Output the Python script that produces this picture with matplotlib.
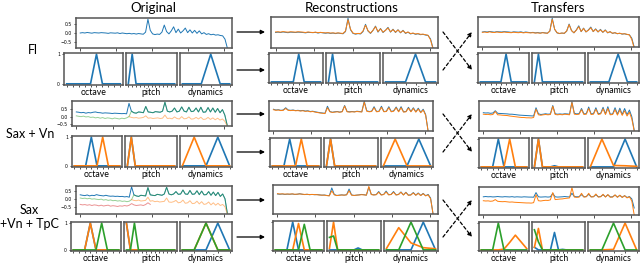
import numpy as np
import matplotlib
matplotlib.use('Agg')
import matplotlib.pyplot as plt

W, H = 640, 263
fig = plt.figure(figsize=(6.4, 2.63), dpi=100)
FONT = 'Lato'

BLUE, ORANGE, GREEN, RED = '#1f77b4', '#ff7f0e', '#2ca02c', '#d62728'

col_titles = ['Original', 'Reconstructions', 'Transfers']
row_labels = ['Fl', 'Sax + Vn', 'Sax\n+Vn + TpC']
dist_names = ['octave', 'pitch', 'dynamics']

# ---------------- spectra (64 bins) ----------------
fl_orig = [0.00, 0.02, 0.00, 0.03, 0.01, -0.01, 0.02, 0.01, 0.00, 0.02,
           0.01, 0.00, -0.02, 0.01, 0.00, -0.01, 0.01, -0.03, 0.00, -0.02,
           -0.04, -0.02, -0.05, -0.03, -0.06, -0.03, -0.05, -0.07, 0.05, 0.78,
           0.15, -0.05, -0.09, -0.06, -0.08, 0.05, 0.45, 0.08, -0.05, 0.12,
           0.35, 0.02, 0.22, 0.00, 0.12, 0.28, 0.02, 0.18, 0.00, 0.15,
           -0.02, 0.12, -0.05, 0.02, -0.08, -0.04, -0.10, -0.07, -0.12, -0.10,
           -0.14, -0.16, -0.35, -0.85]
fl_rec = [0.03, 0.04, 0.02, 0.05, 0.03, 0.02, 0.04, 0.03, 0.02, 0.04,
          0.03, 0.02, 0.00, 0.03, 0.01, 0.00, 0.02, -0.01, 0.01, -0.01,
          -0.02, -0.01, -0.03, -0.02, -0.04, -0.02, -0.04, -0.05, 0.08, 0.70,
          0.18, -0.03, -0.07, -0.05, -0.06, 0.08, 0.40, 0.10, -0.03, 0.12,
          0.32, 0.05, 0.20, 0.02, 0.12, 0.25, 0.04, 0.16, 0.02, 0.14,
          0.00, 0.10, -0.03, 0.03, -0.06, -0.03, -0.08, -0.06, -0.10, -0.09,
          -0.12, -0.15, -0.40, -0.90]
fl_tr = [-0.02, 0.00, -0.03, 0.01, -0.02, -0.03, 0.00, -0.02, -0.03, 0.00,
         -0.02, -0.03, -0.04, -0.01, -0.03, -0.04, -0.02, -0.05, -0.03, -0.04,
         -0.05, -0.04, -0.06, -0.05, -0.07, -0.04, -0.06, -0.07, 0.05, 0.72,
         0.16, -0.04, -0.08, -0.06, -0.07, 0.06, 0.42, 0.08, -0.04, 0.10,
         0.30, 0.03, 0.20, 0.01, 0.10, 0.24, 0.03, 0.15, 0.01, 0.12,
         -0.01, 0.10, -0.04, 0.02, -0.07, -0.04, -0.09, -0.07, -0.11, -0.10,
         -0.13, -0.16, -0.42, -0.92]

# Sax + Vn original
sv_sax = [0.30, 0.28, 0.25, 0.27, 0.22, 0.26, 0.24, 0.28, 0.30, 0.26,
          0.25, 0.22, 0.24, 0.23, 0.22, 0.20, 0.22, 0.21, 0.20, 0.19,
          0.20, 0.18, 0.85, 0.35, 0.25, 0.22, 0.30, 0.28, 0.25, 0.65,
          0.30, 0.28, 0.25, 0.32, 0.30, 0.28, 0.35, 0.92, 0.35, 0.30,
          0.35, 0.55, 0.30, 0.35, 0.62, 0.35, 0.30, 0.60, 0.32, 0.35,
          0.55, 0.30, 0.60, 0.28, 0.30, 0.58, 0.30, 0.55, 0.28, 0.52,
          0.25, 0.45, 0.10, -0.55]
sv_vn_head = [0.05, 0.02, 0.00, 0.03, -0.02, 0.00, -0.05, -0.03, -0.08, -0.05,
              -0.10, -0.06, -0.12, -0.08, -0.10, -0.14, -0.09, -0.12, -0.15, -0.10,
              -0.13, -0.08, 0.00]
sv_mix_tail = [0.00, -0.05, -0.08, -0.06, -0.10, -0.08, -0.05, 0.05, -0.10, -0.08,
               -0.12, -0.10, -0.08, -0.12, -0.10, 0.10, -0.12, -0.10, -0.14, -0.02,
               -0.12, -0.15, 0.00, -0.14, -0.12, -0.02, -0.16, -0.14, -0.05, -0.15,
               -0.04, -0.18, -0.16, -0.05, -0.18, -0.08, -0.20, -0.10, -0.22, -0.15,
               -0.30, -0.60]

rec2_blue = [0.45, 0.40, 0.42, 0.38, 0.40, 0.55, 0.40, 0.38, 0.40, 0.36,
             0.38, 0.35, 0.37, 0.33, 0.35, 0.30, 0.32, 0.28, 0.25, 0.22,
             0.20, 0.18, 0.65, 0.30, 0.25, 0.28, 0.30, 0.26, 0.30, 0.70,
             0.30, 0.28, 0.30, 0.28, 0.32, 0.30, 0.28, 0.98, 0.35, 0.30,
             0.32, 0.62, 0.30, 0.32, 0.65, 0.30, 0.32, 0.62, 0.30, 0.35,
             0.60, 0.30, 0.62, 0.28, 0.30, 0.58, 0.30, 0.55, 0.28, 0.52,
             0.25, 0.45, 0.10, -1.0]
rec2_orange = [0.42, 0.38, 0.40, 0.36, 0.38, 0.50, 0.38, 0.36, 0.38, 0.35,
               0.36, 0.33, 0.35, 0.31, 0.33, 0.28, 0.30, 0.26, 0.23, 0.20,
               0.18, 0.16, 0.55, 0.28, 0.24, 0.26, 0.28, 0.25, 0.28, 0.66,
               0.28, 0.26, 0.28, 0.27, 0.30, 0.28, 0.27, 0.92, 0.32, 0.28,
               0.30, 0.55, 0.28, 0.30, 0.58, 0.28, 0.30, 0.55, 0.28, 0.32,
               0.55, 0.28, 0.55, 0.26, 0.28, 0.52, 0.28, 0.50, 0.26, 0.46,
               0.22, 0.40, 0.05, -1.0]
tr2_blue = [0.22, 0.20, 0.21, 0.18, 0.20, 0.35, 0.18, 0.17, 0.16, 0.15,
            0.14, 0.12, 0.12, 0.10, 0.08, 0.06, 0.05, 0.04, 0.03, 0.02,
            0.01, 0.00, 0.55, 0.15, 0.10, 0.12, 0.15, 0.12, 0.14, 0.70,
            0.15, 0.12, 0.14, 0.12, 0.15, 0.14, 0.12, 0.95, 0.18, 0.14,
            0.16, 0.50, 0.14, 0.16, 0.60, 0.14, 0.16, 0.55, 0.15, 0.18,
            0.58, 0.14, 0.62, 0.12, 0.14, 0.55, 0.12, 0.52, 0.10, 0.50,
            0.08, 0.40, -0.05, -0.95]
tr2_orange = [0.12, 0.10, 0.11, 0.08, 0.10, 0.30, 0.08, 0.07, 0.05, 0.04,
              0.03, 0.00, -0.02, -0.04, -0.06, -0.08, -0.10, -0.10, -0.12, -0.12,
              -0.13, -0.10, 0.45, 0.08, 0.05, 0.08, 0.10, 0.08, 0.10, 0.65,
              0.10, 0.08, 0.10, 0.08, 0.12, 0.10, 0.08, 0.90, 0.12, 0.10,
              0.12, 0.42, 0.10, 0.12, 0.50, 0.10, 0.12, 0.45, 0.10, 0.14,
              0.48, 0.10, 0.50, 0.08, 0.10, 0.42, 0.06, 0.40, 0.04, 0.35,
              0.00, 0.25, -0.20, -1.0]

# Sax + Vn + TpC original
svt_sax = [0.25, 0.22, 0.20, 0.24, 0.18, 0.22, 0.20, 0.26, 0.22, 0.20,
           0.18, 0.22, 0.18, 0.16, 0.17, 0.15, 0.16, 0.14, 0.15, 0.12,
           0.14, 0.10, 0.75, 0.25, 0.18, 0.15, 0.22, 0.20, 0.18, 0.70,
           0.25, 0.22, 0.20, 0.28, 0.25, 0.22, 0.30, 0.72, 0.30, 0.25,
           0.30, 0.45, 0.28, 0.30, 0.55, 0.30, 0.28, 0.52, 0.28, 0.30,
           0.50, 0.26, 0.48, 0.25, 0.26, 0.45, 0.22, 0.42, 0.20, 0.40,
           0.15, 0.30, 0.00, -0.90]
svt_vn_head = [0.05, 0.02, 0.04, 0.00, 0.03, -0.02, 0.00, -0.03, -0.05, -0.02,
               -0.08, -0.05, -0.10, -0.07, -0.12, -0.10, -0.14, -0.12, -0.16, -0.14,
               -0.18, -0.15, -0.05]
svt_tpc_head = [-0.35, -0.38, -0.36, -0.40, -0.37, -0.42, -0.38, -0.40, -0.44, -0.40,
                -0.45, -0.42, -0.40, -0.46, -0.43, -0.45, -0.48, -0.44, -0.46, -0.42,
                -0.45, -0.40, -0.30, -0.38, -0.42, -0.40, -0.38, -0.42, -0.36, -0.25,
                -0.35]
svt_mix_tail = [-0.05, -0.10, -0.12, -0.08, -0.14, -0.12, -0.10, 0.10, -0.15, -0.12,
                -0.18, -0.15, -0.20, -0.18, -0.16, 0.05, -0.20, -0.22, -0.18, -0.10,
                -0.25, -0.22, -0.08, -0.28, -0.25, -0.12, -0.30, -0.28, -0.15, -0.32,
                -0.18, -0.35, -0.32, -0.20, -0.38, -0.25, -0.40, -0.28, -0.42, -0.35,
                -0.50, -0.95]

rec3_blue = [0.38, 0.36, 0.38, 0.35, 0.37, 0.36, 0.38, 0.35, 0.36, 0.40,
             0.36, 0.34, 0.36, 0.33, 0.35, 0.33, 0.34, 0.32, 0.30, 0.31,
             0.28, 0.26, 0.80, 0.35, 0.28, 0.30, 0.32, 0.30, 0.33, 0.72,
             0.32, 0.28, 0.30, 0.32, 0.35, 0.33, 0.30, 0.85, 0.35, 0.32,
             0.34, 0.55, 0.32, 0.35, 0.58, 0.33, 0.35, 0.55, 0.32, 0.35,
             0.52, 0.32, 0.50, 0.30, 0.32, 0.48, 0.30, 0.45, 0.28, 0.42,
             0.26, 0.35, 0.10, -1.0]
rec3_orange = [0.40, 0.38, 0.39, 0.37, 0.38, 0.37, 0.39, 0.36, 0.37, 0.38,
               0.37, 0.35, 0.36, 0.34, 0.35, 0.34, 0.33, 0.31, 0.30, 0.30,
               0.27, 0.25, 0.60, 0.32, 0.27, 0.29, 0.31, 0.30, 0.32, 0.60,
               0.30, 0.28, 0.30, 0.31, 0.33, 0.32, 0.30, 0.90, 0.34, 0.31,
               0.33, 0.50, 0.31, 0.34, 0.52, 0.32, 0.34, 0.50, 0.31, 0.34,
               0.50, 0.31, 0.48, 0.29, 0.31, 0.45, 0.29, 0.42, 0.27, 0.40,
               0.25, 0.32, 0.05, -1.0]
tr3_blue = [0.30, 0.32, 0.30, 0.31, 0.29, 0.30, 0.32, 0.30, 0.29, 0.31,
            0.30, 0.29, 0.31, 0.28, 0.30, 0.29, 0.28, 0.30, 0.29, 0.28,
            0.28, 0.27, 0.60, 0.30, 0.28, 0.29, 0.30, 0.28, 0.30, 0.55,
            0.30, 0.28, 0.29, 0.30, 0.32, 0.30, 0.29, 0.55, 0.32, 0.30,
            0.31, 0.45, 0.30, 0.32, 0.48, 0.30, 0.31, 0.45, 0.30, 0.32,
            0.45, 0.30, 0.44, 0.29, 0.30, 0.42, 0.28, 0.40, 0.27, 0.38,
            0.25, 0.32, 0.15, -0.50]
tr3_orange = [0.02, 0.00, 0.01, -0.02, 0.00, 0.10, -0.02, -0.04, -0.05, -0.04,
              -0.06, -0.08, -0.07, -0.09, -0.10, -0.11, -0.12, -0.13, -0.14, -0.14,
              -0.15, -0.12, 0.45, 0.02, 0.00, 0.03, 0.05, 0.04, 0.08, 0.60,
              0.10, 0.12, 0.14, 0.15, 0.18, 0.20, 0.22, 0.95, 0.28, 0.26,
              0.28, 0.55, 0.28, 0.30, 0.55, 0.29, 0.30, 0.50, 0.28, 0.30,
              0.48, 0.28, 0.46, 0.27, 0.28, 0.44, 0.26, 0.42, 0.25, 0.38,
              0.22, 0.30, 0.00, -1.0]

# ---------------- one-hot style distributions ----------------
# Fl (octave 10 bins, pitch 13 bins, dynamics 6 bins)
fl_oct = [0, 0, 0, 0, 0, 1, 0, 0, 0, 0]
fl_pitch = [0, 1, 0, 0, 0, 0, 0, 0, 0, 0, 0, 0, 0]
fl_dyn = [0, 0, 0, 1, 0, 0]
# Sax + Vn (octave 9 bins, pitch 13 bins, dynamics 5 bins)
sv_oct_b = [0, 0, 0, 1, 0, 0, 0, 0, 0]
sv_oct_o = [0, 0, 0, 0, 0, 1, 0, 0, 0]
sv_pitch_b = [0, 1, 0, 0, 0, 0, 0, 0, 0, 0, 0, 0, 0]
sv_pitch_o = [0, 1, 0, 0, 0, 0, 0, 0, 0, 0, 0, 0, 0]
sv_dyn_b = [0, 0, 0, 1, 0]
sv_dyn_o = [0, 1, 0, 0, 0]
sv_tr_pitch_b = [0, 1, 0, 0, 0, 0.04, 0, 0, 0, 0, 0, 0, 0]
sv_tr_dyn_o = [0, 1, 0.05, 0.04, 0.02]
# Sax + Vn + TpC
svt_oct_b = [0, 0, 0, 1, 0, 0, 0, 0, 0]
svt_oct_o = [0, 0, 0, 1, 0, 0, 0, 0, 0]
svt_oct_g = [0, 0, 0, 0, 0, 1, 0, 0, 0]
svt_pitch_b = [1, 0, 0, 0, 0, 0, 0, 0, 0, 0, 0, 0, 0]
svt_pitch_o = [1, 0, 0, 0, 0, 0, 0, 0, 0, 0, 0, 0, 0]
svt_pitch_g = [0, 0, 1, 0, 0, 0, 0, 0, 0, 0, 0, 0, 0]
svt_dyn_b = [0, 0, 0, 1, 0]
svt_dyn_o = [0, 0, 1, 0, 0]
svt_dyn_g = [0, 0, 1, 0, 0]
rec3_oct_b = [0, 0, 0, 1, 0, 0, 0, 0, 0]
rec3_oct_o = [0, 0, 0, 0, 0.95, 0, 0, 0, 0]
rec3_oct_g = [0, 0, 0, 0, 0, 0.92, 0, 0, 0]
rec3_pitch_b = [0, 0, 0, 0, 0, 0, 0, 0.07, 0, 0, 0, 0, 0]
rec3_pitch_o = [0.05, 1, 0, 0, 0, 0, 0, 0, 0, 0, 0, 0, 0]
rec3_pitch_g = [0.45, 0.5, 0, 0, 0, 0, 0, 0, 0, 0, 0, 0, 0]
rec3_dyn_b = [0, 0, 0, 1, 0]
rec3_dyn_o = [0.05, 0.8, 0.25, 0.08, 0.04]
rec3_dyn_g = [0, 0, 1, 0, 0]
tr3_oct_o = [0, 0, 0, 0, 0.03, 0.28, 0.55, 0.3, 0.05]
tr3_oct_g = [0, 0, 0, 1, 0, 0, 0, 0, 0]
tr3_pitch_b = [0.1, 0, 0, 0, 0, 0.65, 0, 0.02, 0, 0, 0, 0, 0]
tr3_pitch_o = [0.1, 0.8, 0, 0, 0, 0, 0, 0, 0, 0, 0, 0, 0]
tr3_pitch_g = [0.75, 0.3, 0, 0, 0, 0, 0, 0, 0, 0, 0, 0, 0]
tr3_dyn_o = [0, 0, 0.02, 1, 0]
tr3_dyn_g = [0, 0, 1, 0, 0]


def rect(x0, y0, x1, y1):
    return [x0 / W, 1 - y1 / H, (x1 - x0) / W, (y1 - y0) / H]


def style(ax):
    for s in ax.spines.values():
        s.set_color('#555555')
        s.set_linewidth(1.1)
    ax.tick_params(length=1.8, width=0.6, color='#333333', pad=1)


def spectrum(r, lines, ylim, ylabels=False):
    ax = fig.add_axes(rect(*r))
    for start, vals, color, alpha in lines:
        x = np.arange(start, start + len(vals))
        ax.plot(x, vals, color=color, lw=0.7, alpha=alpha)
    ax.set_xlim(-1.8, 65)
    ax.set_ylim(*ylim)
    ax.set_xticks([0, 15.4, 30.8, 46.2, 61.6])
    ax.set_xticklabels([])
    if ylabels:
        ax.set_yticks([-0.5, 0.0, 0.5])
        ax.set_yticklabels(['\u22120.5', '0.0', '0.5'], fontsize=3.3)
    else:
        ax.set_yticks([])
    style(ax)
    return ax


def dist(r, series, name, yticks=False, ylabels=False):
    ax = fig.add_axes(rect(*r))
    n = len(series[0][0])
    for vals, color in series:
        ax.plot(np.arange(n), vals, color=color, lw=1.2)
    ax.set_xticks(np.arange(n))
    ax.set_xticklabels([])
    ax.set_ylim(-0.04, 1.04)
    if yticks:
        ax.set_yticks([0, 1])
        if ylabels:
            ax.set_yticklabels(['0', '1'], fontsize=3.3)
        else:
            ax.set_yticklabels([])
    else:
        ax.set_yticks([])
    ax.set_xlabel(name, fontsize=6.3, family=FONT, labelpad=0)
    style(ax)
    ax.tick_params(axis='x', length=1.5)
    return ax


# ---------------- layout (pixel rects) ----------------
spec_rects = [[(76, 18, 232, 48), (271, 17, 438, 48), (478, 17, 639, 47)],
              [(72, 101, 232, 126), (269, 101, 433, 131), (479, 101, 639, 131)],
              [(76, 186, 232, 214), (273, 185, 438, 214), (479, 187, 639, 215)]]
dist_x = [[[(64, 123), (126, 177), (180, 232)], [(269, 323), (326, 380), (383, 438)],
           [(478, 529), (532, 585), (588, 639)]],
          [[(72, 122), (125, 177), (180, 232)], [(270, 321), (324, 378), (381, 433)],
           [(479, 529), (532, 585), (588, 639)]],
          [[(71, 121), (124, 177), (180, 232)], [(273, 324), (327, 381), (384, 438)],
           [(479, 529), (532, 585), (588, 639)]]]
dist_y = [[(53, 85), (53, 83), (53, 83)],
          [(136, 167), (138, 167), (138, 168)],
          [(222, 251), (221, 251), (222, 251)]]

sv_vn_full = sv_vn_head + sv_sax[23:]
svt_vn_full = svt_vn_head + svt_sax[23:]

spectra = [
    [([(0, fl_orig, BLUE, 1)], (-0.85, 0.85)),
     ([(0, fl_orig, BLUE, 1), (0, fl_rec, ORANGE, 1)], (-0.85, 0.85)),
     ([(0, fl_orig, BLUE, 1), (0, fl_tr, ORANGE, 1)], (-0.85, 0.85))],
    [([(0, sv_sax, BLUE, 1), (0, sv_vn_full, GREEN, 0.5), (22, sv_mix_tail, ORANGE, 0.5)], (-0.6, 1.0)),
     ([(0, rec2_blue, BLUE, 1), (0, rec2_orange, ORANGE, 1)], (-1.0, 1.0)),
     ([(0, tr2_blue, BLUE, 1), (0, tr2_orange, ORANGE, 1)], (-1.0, 1.0))],
    [([(0, svt_sax, BLUE, 1), (0, svt_vn_full, GREEN, 0.5), (0, svt_tpc_head, RED, 0.5),
       (22, svt_mix_tail, ORANGE, 0.5)], (-0.95, 0.8)),
     ([(0, rec3_blue, BLUE, 1), (0, rec3_orange, ORANGE, 1)], (-1.0, 1.0)),
     ([(0, tr3_blue, BLUE, 1), (0, tr3_orange, ORANGE, 1)], (-1.0, 1.0))],
]

dists = [
    [[[(fl_oct, BLUE)], [(fl_pitch, BLUE)], [(fl_dyn, BLUE)]]] * 3,
    [[[(sv_oct_b, BLUE), (sv_oct_o, ORANGE)], [(sv_pitch_b, BLUE), (sv_pitch_o, ORANGE)],
      [(sv_dyn_b, BLUE), (sv_dyn_o, ORANGE)]],
     [[(sv_oct_b, BLUE), (sv_oct_o, ORANGE)], [(sv_pitch_b, BLUE), (sv_pitch_o, ORANGE)],
      [(sv_dyn_b, BLUE), (sv_dyn_o, ORANGE)]],
     [[(sv_oct_b, BLUE), (sv_oct_o, ORANGE)], [(sv_tr_pitch_b, BLUE), (sv_pitch_o, ORANGE)],
      [(sv_dyn_b, BLUE), (sv_tr_dyn_o, ORANGE)]]],
    [[[(svt_oct_b, BLUE), (svt_oct_o, ORANGE), (svt_oct_g, GREEN)],
      [(svt_pitch_b, BLUE), (svt_pitch_o, ORANGE), (svt_pitch_g, GREEN)],
      [(svt_dyn_b, BLUE), (svt_dyn_o, ORANGE), (svt_dyn_g, GREEN)]],
     [[(rec3_oct_b, BLUE), (rec3_oct_o, ORANGE), (rec3_oct_g, GREEN)],
      [(rec3_pitch_b, BLUE), (rec3_pitch_o, ORANGE), (rec3_pitch_g, GREEN)],
      [(rec3_dyn_b, BLUE), (rec3_dyn_o, ORANGE), (rec3_dyn_g, GREEN)]],
     [[(tr3_oct_o, ORANGE), (tr3_oct_g, GREEN)],
      [(tr3_pitch_b, BLUE), (tr3_pitch_o, ORANGE), (tr3_pitch_g, GREEN)],
      [(tr3_dyn_o, ORANGE), (tr3_dyn_g, GREEN)]]],
]

for r in range(3):
    for c in range(3):
        lines, ylim = spectra[r][c]
        spectrum(spec_rects[r][c], lines, ylim, ylabels=(c == 0))
        y0, y1 = dist_y[r][c]
        for k in range(3):
            x0, x1 = dist_x[r][c][k]
            dist((x0, y0, x1, y1), dists[r][c][k], dist_names[k],
                 yticks=(k == 0), ylabels=(c == 0 and k == 0))

# titles
for cx, t in zip([153, 352, 558], col_titles):
    fig.text(cx / W, 1 - 8 / H, t, ha='center', va='center', fontsize=9.5, family=FONT)

# row labels
fig.text(33 / W, 1 - 50 / H, row_labels[0], ha='center', va='center', fontsize=9, family=FONT)
fig.text(30 / W, 1 - 134 / H, row_labels[1], ha='center', va='center', fontsize=9, family=FONT)
fig.text(29 / W, 1 - 217 / H, row_labels[2], ha='center', va='center', fontsize=9,
         family=FONT, linespacing=1.3)


# arrows
def arrow(p0, p1, dashed=False):
    fig.add_artist(matplotlib.patches.FancyArrowPatch(
        (p0[0] / W, 1 - p0[1] / H), (p1[0] / W, 1 - p1[1] / H),
        transform=fig.transFigure, arrowstyle='-|>', mutation_scale=6,
        lw=0.9, color='black', linestyle=(0, (2.5, 2)) if dashed else '-',
        shrinkA=0, shrinkB=0))


arrow_rows = [(32, 70), (114, 152), (200, 237)]
for ys, yd in arrow_rows:
    arrow((237, ys), (265, ys))
    arrow((237, yd), (265, yd))
    arrow((443, ys), (472, yd), dashed=True)
    arrow((443, yd), (472, ys), dashed=True)

fig.savefig('out.png', dpi=100)
